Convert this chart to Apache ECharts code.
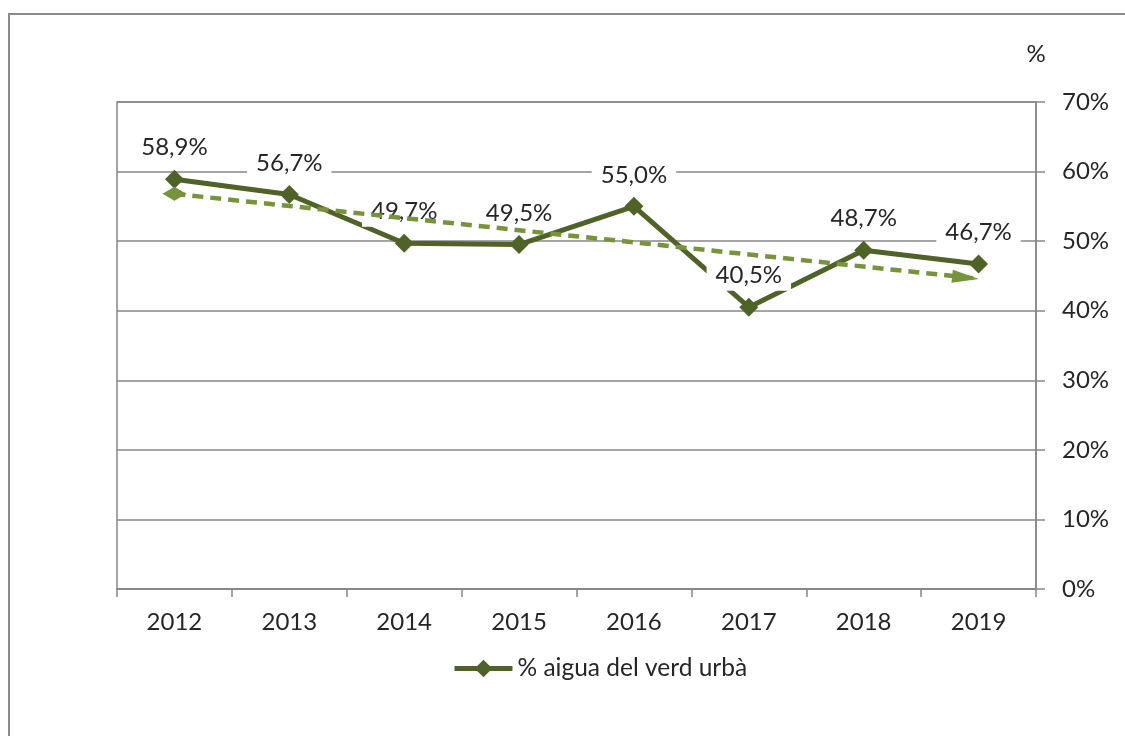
<!DOCTYPE html>
<html>
<head>
<meta charset="utf-8">
<script src="https://cdn.jsdelivr.net/npm/echarts@6/dist/echarts.min.js"></script>
<style>
  html, body { margin: 0; padding: 0; background: #fff; overflow: hidden; }
  #frame { position: absolute; left: 8px; top: 13px; width: 1300px; height: 900px; border: 2px solid #8a8a8a; box-sizing: border-box; }
  #chart { position: absolute; left: 0; top: 0; width: 1125px; height: 736px; }
</style>
</head>
<body>
<div id="frame"></div>
<div id="chart"></div>
<script>
// dades
const years = ['2012', '2013', '2014', '2015', '2016', '2017', '2018', '2019'];
const aiguaVerd = [58.9, 56.7, 49.7, 49.5, 55.0, 40.5, 48.7, 46.7];
// línia de tendència (inici i final llegits del gràfic)
const tendencia = [56.8, null, null, null, null, null, null, 44.6];
const yTicks = { min: 0, max: 70, interval: 10 };

const FONT = 'Lato';
const FS = 24;
const TXT = '#262626';
const GRIS = '#878787';

const myChart = echarts.init(document.getElementById('chart'), null, { renderer: 'canvas' });

const trendData = tendencia.map((v, i) => {
    if (v === null) return null;
    if (i === 0) return { value: v, symbol: 'diamond', symbolSize: [24, 14] };
    return { value: v, symbol: 'triangle', symbolSize: [13, 27], symbolRotate: -96, symbolOffset: [-13, -1] };
});

const option = {
    animation: false,
    textStyle: { fontFamily: FONT, color: TXT },
    grid: {
        left: 117, right: 89, top: 102, bottom: 147,
        show: true, borderColor: GRIS, borderWidth: 1.5
    },
    legend: {
        data: ['% aigua del verd urbà'],
        bottom: 50,
        left: 447,
        itemWidth: 58,
        itemHeight: 22,
        itemGap: 4,
        lineStyle: { width: 5 },
        textStyle: { fontFamily: FONT, fontSize: 24.5, color: TXT }
    },
    xAxis: {
        type: 'category',
        data: years,
        boundaryGap: true,
        axisLine: { lineStyle: { color: GRIS, width: 1.5 } },
        axisTick: { show: true, length: 8, lineStyle: { color: GRIS, width: 1.5 } },
        axisLabel: { margin: 21, fontSize: FS, color: TXT, fontFamily: FONT }
    },
    yAxis: {
        type: 'value',
        position: 'right',
        min: yTicks.min, max: yTicks.max, interval: yTicks.interval,
        name: '%',
        nameLocation: 'end',
        nameGap: 36,
        nameTextStyle: { fontSize: FS, color: TXT, fontFamily: FONT, align: 'center' },
        axisLine: { show: true, lineStyle: { color: GRIS, width: 1.5 } },
        axisTick: { show: true, length: 9, inside: false, lineStyle: { color: GRIS, width: 1.5 } },
        axisLabel: { margin: 26, fontSize: FS, color: TXT, fontFamily: FONT, formatter: '{value}%' },
        splitLine: { show: true, lineStyle: { color: GRIS, width: 1.5 } }
    },
    series: [
        {
            name: '% aigua del verd urbà',
            type: 'line',
            data: aiguaVerd,
            z: 2,
            symbol: 'diamond',
            symbolSize: 19,
            itemStyle: { color: '#4F6228' },
            lineStyle: { color: '#4F6228', width: 5 },
            label: {
                show: true,
                position: 'top',
                distance: 7,
                fontSize: FS,
                fontFamily: FONT,
                color: TXT,
                backgroundColor: '#fff',
                padding: [5, 9, 3, 9],
                formatter: p => p.value.toFixed(1).replace('.', ',') + '%'
            }
        },
        {
            name: 'tendencia',
            type: 'line',
            data: trendData,
            connectNulls: true,
            z: 5,
            itemStyle: { color: '#77933C' },
            lineStyle: { color: '#77933C', width: 4.5, type: [11, 7] },
            label: { show: false },
            tooltip: { show: false }
        }
    ]
};

myChart.setOption(option);
</script>
</body>
</html>
